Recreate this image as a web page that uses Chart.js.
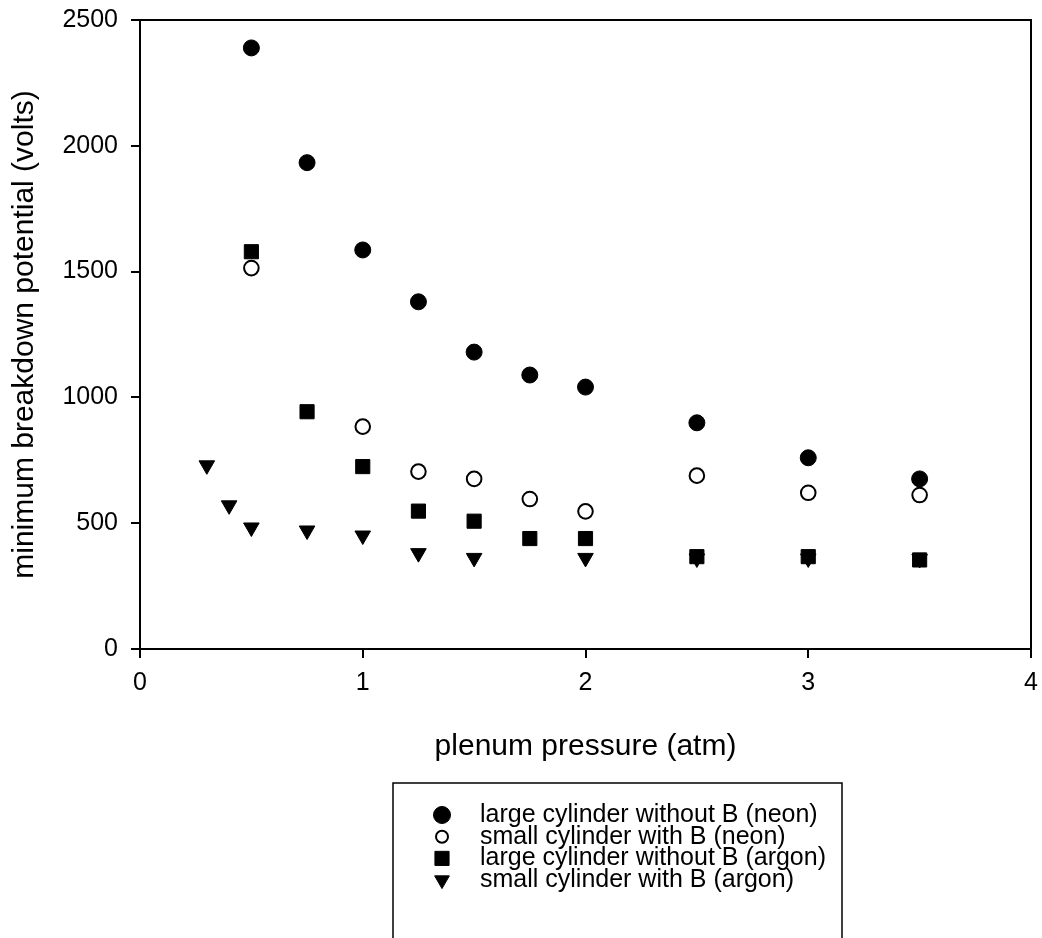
<!DOCTYPE html>
<html lang="en">
<head>
<meta charset="UTF-8">
<title>Minimum breakdown potential vs plenum pressure</title>
<script src="https://cdn.jsdelivr.net/npm/chart.js"></script>
<style>
  html, body { margin: 0; padding: 0; background: #fff; }
  canvas { display: block; }
</style>
</head>
<body>
<canvas id="myChart" width="1042" height="938"></canvas>
<script>
// series (x = plenum pressure in atm, y = volts)
const seriesLabels = [
  'large cylinder without B (neon)',
  'small cylinder with B (neon)',
  'large cylinder without B (argon)',
  'small cylinder with B (argon)'
];
const neonLargeX = [0.5, 0.75, 1, 1.25, 1.5, 1.75, 2, 2.5, 3, 3.5];
const neonLargeY = [2389, 1933, 1586, 1380, 1180, 1089, 1041, 899, 760, 676];
const neonSmallX = [0.5, 1, 1.25, 1.5, 1.75, 2, 2.5, 3, 3.5];
const neonSmallY = [1514, 884, 705, 676, 596, 547, 689, 621, 612];
const argonLargeX = [0.5, 0.75, 1, 1.25, 1.5, 1.75, 2, 2.5, 3, 3.5];
const argonLargeY = [1579, 943, 725, 548, 508, 439, 439, 367, 367, 354];
const argonSmallX = [0.3, 0.4, 0.5, 0.75, 1, 1.25, 1.5, 2, 2.5, 3, 3.5];
const argonSmallY = [730, 571, 483, 471, 451, 381, 362, 362, 360, 360, 358];
const xTicks = [0, 1, 2, 3, 4];
const yTicks = [0, 500, 1000, 1500, 2000, 2500];

const FONT = '"Liberation Sans", Arial, Helvetica, sans-serif';
Chart.defaults.color = '#000';
Chart.defaults.font.family = FONT;

function pts(xs, ys) {
  return xs.map((x, i) => ({ x: x, y: ys[i] }));
}

// legend marker sizes are a bit smaller than in the plot
const legendRadius = [8.5, 6, 10, 8.5];

const frame = {
  id: 'frame',
  afterDraw(chart) {
    const { ctx, chartArea: a } = chart;
    ctx.save();
    ctx.strokeStyle = '#000';
    ctx.lineWidth = 2;
    ctx.beginPath();
    ctx.moveTo(a.left, a.top);
    ctx.lineTo(a.right, a.top);
    ctx.lineTo(a.right, a.bottom);
    ctx.stroke();
    ctx.restore();
  }
};

const boxLegend = {
  id: 'boxLegend',
  afterDraw(chart) {
    const ctx = chart.ctx;
    ctx.save();
    ctx.strokeStyle = '#000';
    ctx.lineWidth = 1.5;
    ctx.strokeRect(393, 783, 449, 170);
    ctx.font = '25px ' + FONT;
    ctx.textBaseline = 'middle';
    chart.data.datasets.forEach((ds, i) => {
      const y = 815 + i * 21.7;
      ctx.fillStyle = ds.backgroundColor;
      ctx.strokeStyle = ds.borderColor;
      ctx.lineWidth = ds.borderWidth;
      Chart.helpers.drawPoint(ctx, {
        pointStyle: ds.pointStyle,
        radius: legendRadius[i],
        borderWidth: ds.borderWidth,
        rotation: ds.pointRotation || 0
      }, 442, y);
      ctx.fillStyle = '#000';
      ctx.fillText(ds.label, 480, y);
    });
    ctx.restore();
  }
};

const ctx = document.getElementById('myChart').getContext('2d');
const myChart = new Chart(ctx, {
  type: 'scatter',
  data: {
    datasets: [
      {
        label: seriesLabels[0],
        data: pts(neonLargeX, neonLargeY),
        pointStyle: 'circle',
        pointRadius: 8,
        backgroundColor: '#000',
        borderColor: '#000',
        borderWidth: 1
      },
      {
        label: seriesLabels[1],
        data: pts(neonSmallX, neonSmallY),
        pointStyle: 'circle',
        pointRadius: 7.3,
        backgroundColor: '#fff',
        borderColor: '#000',
        borderWidth: 2
      },
      {
        label: seriesLabels[2],
        data: pts(argonLargeX, argonLargeY),
        pointStyle: 'rect',
        pointRadius: 10,
        backgroundColor: '#000',
        borderColor: '#000',
        borderWidth: 1
      },
      {
        label: seriesLabels[3],
        data: pts(argonSmallX, argonSmallY),
        pointStyle: 'triangle',
        pointRotation: 180,
        pointRadius: 9,
        backgroundColor: '#000',
        borderColor: '#000',
        borderWidth: 1
      }
    ]
  },
  options: {
    responsive: false,
    animation: false,
    layout: { padding: { top: 20, right: 10, bottom: 169, left: 0 } },
    plugins: {
      legend: { display: false },
      tooltip: { enabled: false }
    },
    scales: {
      x: {
        type: 'linear',
        min: 0,
        max: 4,
        afterFit(scale) {
          scale.height = 120;
          scale.paddingLeft = 0;
          scale.paddingRight = 0;
        },
        afterBuildTicks(scale) { scale.ticks = xTicks.map(v => ({ value: v })); },
        ticks: { padding: 10, font: { size: 25 }, callback: v => String(v) },
        grid: { drawOnChartArea: false, color: '#000', lineWidth: 2, tickLength: 9 },
        border: { color: '#000', width: 2 },
        title: {
          display: true,
          text: 'plenum pressure (atm)',
          font: { size: 30 },
          padding: { top: 0, bottom: 4 }
        }
      },
      y: {
        type: 'linear',
        min: 0,
        max: 2500,
        afterFit(scale) {
          scale.width = 140;
          scale.paddingTop = 0;
          scale.paddingBottom = 0;
        },
        afterBuildTicks(scale) { scale.ticks = yTicks.map(v => ({ value: v })); },
        ticks: { padding: 13, font: { size: 25 }, callback: v => String(v) },
        grid: { drawOnChartArea: false, color: '#000', lineWidth: 2, tickLength: 9 },
        border: { color: '#000', width: 2 },
        title: {
          display: true,
          text: 'minimum breakdown potential (volts)',
          font: { size: 30 },
          padding: { top: 7, bottom: 0 }
        }
      }
    }
  },
  plugins: [frame, boxLegend]
});
</script>
</body>
</html>
